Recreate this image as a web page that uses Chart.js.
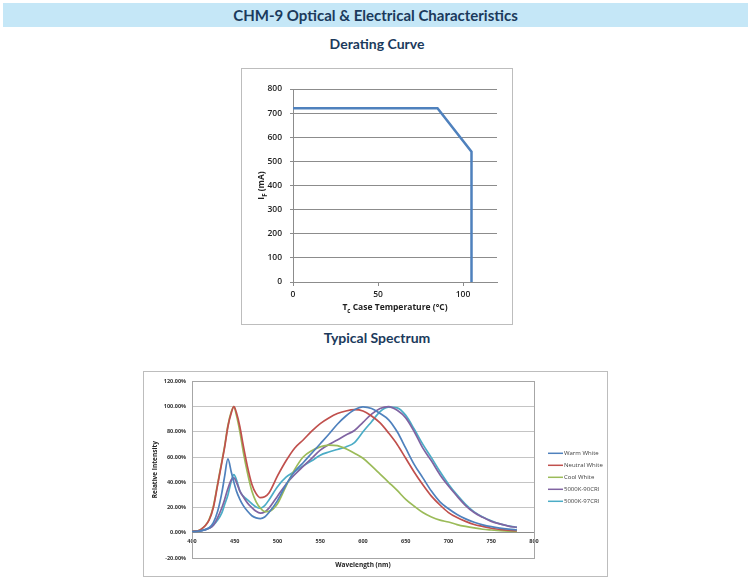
<!DOCTYPE html>
<html>
<head>
<meta charset="utf-8">
<script src="https://cdn.jsdelivr.net/npm/chart.js@4"></script>
<style>
  html, body { margin: 0; padding: 0; background: #fff; }
  body { width: 750px; height: 583px; position: relative; overflow: hidden; font-family: Lato, "Open Sans", sans-serif; }
  .bar { position: absolute; left: 3px; top: 3px; width: 745px; height: 24px; background: #c5e7f7; color: #1b3a5c;
         font-weight: bold; font-size: 15px; line-height: 24px; text-align: center; }
  .head { position: absolute; left: 2px; width: 750px; text-align: center; color: #1b3a5c; font-weight: bold; font-size: 14px; line-height: 18px; }
  .box { position: absolute; border: 1px solid #bdbdbd; box-sizing: border-box; }
</style>
</head>
<body>
<div class="bar">CHM-9 Optical &amp; Electrical Characteristics</div>
<div class="head" style="top:35px">Derating Curve</div>
<div class="box" style="left:241px;top:68px;width:272px;height:257px"><canvas id="derating"></canvas></div>
<div class="head" style="top:329px">Typical Spectrum</div>
<div class="box" style="left:143px;top:371px;width:465px;height:206px"><canvas id="spectrum"></canvas></div>

<script>
// --- derating curve data ---
const DERATE_TEMP = [0, 85, 105, 105];
const DERATE_MA = [720, 720, 540, 0];
const DERATE_X_TITLE = [{ text: 'T' }, { text: 'c', sub: true }, { text: ' Case Temperature (°C)' }];
const DERATE_Y_TITLE = [{ text: 'I' }, { text: 'F', sub: true }, { text: ' (mA)' }];

// --- spectrum data (relative intensity, %) ---
const WAVELENGTH = [400, 410, 420, 425, 430, 435, 438, 442, 446, 449, 452, 456, 460, 465, 470, 475, 480, 485, 490, 500,
  510, 520, 530, 540, 550, 560, 570, 580, 590, 600, 610, 620, 630, 640, 650, 660, 670, 680, 690, 700,
  710, 720, 730, 740, 750, 760, 770, 780];
const WARM_WHITE = [1, 1.5, 4, 8, 17, 32, 44, 58.5, 48, 40, 33, 26.5, 21.5, 17, 13.5, 11.8, 11.2, 12.5, 16, 25.5,
  38, 48.5, 55.5, 63, 70.5, 78, 86, 92.5, 97.5, 99.8, 98.5, 94.5, 89.5, 80, 67, 54, 43.5, 33, 24.5, 19,
  14.5, 11, 8.3, 6.3, 4.8, 3.7, 2.9, 2.3];
const NEUTRAL_WHITE = [1, 2.5, 10, 20, 38, 56, 67, 84, 95, 100, 95, 84, 69, 52, 38.5, 31, 27.8, 28.5, 31.5, 45,
  57, 67, 73.5, 80.5, 86.5, 91, 94.5, 96.5, 97.5, 96.5, 92.5, 87, 79, 70, 59, 48, 38, 29, 22, 16,
  12, 9, 6.5, 5, 3.6, 2.7, 2, 1.6];
const COOL_WHITE = [1, 2.5, 10.5, 21, 39, 57, 68, 85, 96, 100, 93, 80, 64, 47, 33, 24.5, 19.5, 16.8, 17, 23,
  37, 50, 60, 65, 68, 69.5, 69, 66.5, 63, 59, 53, 46.5, 40, 33.5, 26.5, 21, 16, 12.5, 10, 8.5,
  6.5, 5, 3.8, 2.8, 2.2, 1.7, 1.3, 1];
const K5000_90CRI = [1, 1.5, 3.5, 6, 12, 20, 26, 35, 42, 43.5, 40, 33, 28.5, 23.5, 20, 17, 15.6, 16.5, 19.5, 29,
  38.5, 46, 52.6, 59, 65.5, 70, 73.5, 77.5, 81, 87.5, 94, 98.5, 100, 97, 91, 80, 67, 57, 46, 37,
  29, 21.5, 16, 12.2, 9, 7, 5.3, 4.2];
const K5000_97CRI = [1, 1.5, 3.5, 6, 10, 16, 22, 30, 41, 46, 42, 33, 29, 26, 23, 20.5, 19.5, 21.5, 26, 36.5,
  44, 48.5, 53, 57, 61.5, 64, 66, 68, 71.5, 80, 88, 96, 99.5, 99, 93, 82, 70, 59.5, 48.5, 38.5,
  30, 22.5, 16.5, 12.5, 9.5, 7, 5.5, 4.3];
const SERIES_NAMES = ['Warm White', 'Neutral White', 'Cool White', '5000K-90CRI', '5000K-97CRI'];
const SERIES_VALUES = [WARM_WHITE, NEUTRAL_WHITE, COOL_WHITE, K5000_90CRI, K5000_97CRI];
const SERIES_COLORS = ['#4f81bd', '#c0504d', '#9bbb59', '#8064a2', '#4bacc6'];
const SPEC_X_TITLE = [{ text: 'Wavelength (nm)' }];
const SPEC_Y_TITLE = [{ text: 'Relative Intensity' }];

const FONT = '"Open Sans", sans-serif';

// axis titles with optional subscript parts
function drawParts(ctx, parts, cx, cy, size) {
  const fonts = parts.map(p => 'bold ' + (p.sub ? size * 0.72 : size) + 'px ' + FONT);
  let w = 0;
  parts.forEach((p, i) => { ctx.font = fonts[i]; w += ctx.measureText(p.text).width; });
  let x = cx - w / 2;
  ctx.textAlign = 'left';
  parts.forEach((p, i) => {
    ctx.font = fonts[i];
    ctx.fillText(p.text, x, cy + (p.sub ? size * 0.35 : 0));
    x += ctx.measureText(p.text).width;
  });
}

const axisTitles = {
  id: 'axisTitles',
  afterDraw(chart, args, opts) {
    const ctx = chart.ctx, a = chart.chartArea;
    ctx.save();
    ctx.fillStyle = opts.color || '#222';
    ctx.textBaseline = 'middle';
    if (opts.x) drawParts(ctx, opts.x, (a.left + a.right) / 2, a.bottom + opts.xOffset, opts.size);
    if (opts.y) {
      ctx.translate(a.left - opts.yOffset, (a.top + a.bottom) / 2);
      ctx.rotate(-Math.PI / 2);
      drawParts(ctx, opts.y, 0, 0, opts.size);
    }
    ctx.restore();
  }
};

const plotFrame = {
  id: 'plotFrame',
  beforeDatasetsDraw(chart, args, opts) {
    if (!opts.color) return;
    const ctx = chart.ctx, a = chart.chartArea;
    ctx.save();
    ctx.strokeStyle = opts.color;
    ctx.lineWidth = 1;
    ctx.strokeRect(Math.round(a.left) + 0.5, Math.round(a.top) + 0.5, Math.round(a.right - a.left), Math.round(a.bottom - a.top));
    ctx.restore();
  }
};

const lineLegend = {
  id: 'lineLegend',
  afterDraw(chart, args, opts) {
    if (!opts.show) return;
    const ctx = chart.ctx, a = chart.chartArea;
    ctx.save();
    ctx.font = opts.size + 'px ' + FONT;
    ctx.textBaseline = 'middle';
    ctx.textAlign = 'left';
    chart.data.datasets.forEach((ds, i) => {
      const x = a.right + opts.dx, y = a.top + opts.dy + i * opts.gap;
      ctx.strokeStyle = ds.borderColor;
      ctx.lineWidth = 1.5;
      ctx.beginPath(); ctx.moveTo(x, y); ctx.lineTo(x + opts.len, y); ctx.stroke();
      ctx.fillStyle = '#404040';
      ctx.fillText(ds.label, x + opts.len + 1, y);
    });
    ctx.restore();
  }
};

// --- Derating curve ---
new Chart(document.getElementById('derating'), {
  type: 'line',
  data: {
    datasets: [{
      data: DERATE_TEMP.map((t, i) => ({ x: t, y: DERATE_MA[i] })),
      borderColor: '#4f81bd', borderWidth: 2.5, pointRadius: 0, tension: 0, fill: false,
    }],
  },
  options: {
    animation: false, responsive: true, maintainAspectRatio: false,
    layout: { padding: { left: 0, top: 20, right: 15, bottom: 0 } },
    plugins: {
      legend: { display: false }, tooltip: { enabled: false },
      axisTitles: { x: DERATE_X_TITLE, y: DERATE_Y_TITLE, xOffset: 26, yOffset: 31, size: 8.5, color: '#222' },
      plotFrame: {}, lineLegend: {},
    },
    scales: {
      x: {
        type: 'linear', min: 0, max: 120,
        ticks: { stepSize: 50, includeBounds: false, padding: 3, color: '#222', font: { family: FONT, size: 8.5, weight: '600' } },
        grid: { drawOnChartArea: false, tickLength: 4, color: '#8c8c8c' },
        border: { color: '#8c8c8c' },
        afterFit: s => { s.height = 42; },
      },
      y: {
        min: 0, max: 800,
        ticks: { stepSize: 100, padding: 8, color: '#222', font: { family: FONT, size: 8.5, weight: '600' } },
        grid: { color: '#8c8c8c', tickLength: 3 },
        border: { color: '#8c8c8c' },
        afterFit: s => { s.width = 51; },
      },
    },
  },
  plugins: [axisTitles, plotFrame, lineLegend],
});

// --- Typical spectrum ---
new Chart(document.getElementById('spectrum'), {
  type: 'line',
  data: {
    datasets: SERIES_NAMES.map((name, i) => ({
      label: name,
      data: WAVELENGTH.map((w, j) => ({ x: w, y: SERIES_VALUES[i][j] })),
      borderColor: SERIES_COLORS[i], borderWidth: 1.7, pointRadius: 0,
      cubicInterpolationMode: 'monotone', fill: false,
    })),
  },
  options: {
    animation: false, responsive: true, maintainAspectRatio: false,
    layout: { padding: { left: 0, top: 4, right: 73, bottom: 18 } },
    plugins: {
      legend: { display: false }, tooltip: { enabled: false },
      axisTitles: { x: SPEC_X_TITLE, y: SPEC_Y_TITLE, xOffset: 7.5, yOffset: 37, size: 6.5, color: '#222' },
      plotFrame: { color: '#a6a6a6' },
      lineLegend: { show: true, dx: 14, dy: 72, gap: 12, len: 15, size: 6 },
    },
    scales: {
      x: {
        type: 'linear', min: 400, max: 800, position: { y: 0 },
        ticks: { stepSize: 50, padding: 5, color: '#333', font: { family: FONT, size: 5.5, weight: 'bold' } },
        grid: { display: false, drawTicks: false, tickLength: 0 },
        border: { color: '#8c8c8c' },
      },
      y: {
        min: -20, max: 120,
        ticks: { stepSize: 20, padding: 6, color: '#333', font: { family: FONT, size: 5.5, weight: 'bold' },
                 callback: v => v.toFixed(2) + '%' },
        grid: { color: '#c4c4c4', drawTicks: false },
        border: { color: '#a6a6a6' },
        afterFit: s => { s.width = 48; },
      },
    },
  },
  plugins: [axisTitles, plotFrame, lineLegend],
});
</script>
</body>
</html>
